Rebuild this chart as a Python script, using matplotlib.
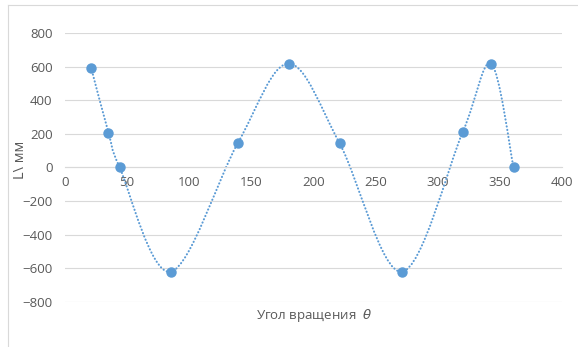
import matplotlib.pyplot as plt
from matplotlib.path import Path
from matplotlib.patches import PathPatch
from matplotlib.lines import Line2D
import numpy as np

# angle of rotation (deg) and length L (mm)
theta = [21, 35, 44, 85, 139, 180, 221, 271, 320, 343, 361]
length = [594, 207, 0, -620, 144, 618, 144, -620, 209, 617, 0]

x_ticks = [0, 50, 100, 150, 200, 250, 300, 350, 400]
y_ticks = [-800, -600, -400, -200, 0, 200, 400, 600, 800]

blue = '#5B9BD5'
grey_txt = '#595959'
grid_col = '#D9D9D9'

plt.rcParams['font.family'] = ['Open Sans', 'DejaVu Sans']


def smooth_path(xs, ys):
    # Excel-like "smoothed line": cubic bezier segments through the points
    pts = np.column_stack([xs, ys]).astype(float)
    verts = [pts[0]]
    codes = [Path.MOVETO]
    n = len(pts)
    for i in range(n - 1):
        p0 = pts[i - 1] if i > 0 else pts[i]
        p1 = pts[i]
        p2 = pts[i + 1]
        p3 = pts[i + 2] if i + 2 < n else pts[i + 1]
        c1 = p1 + (p2 - p0) / 6.0
        c2 = p2 - (p3 - p1) / 6.0
        verts += [c1, c2, p2]
        codes += [Path.CURVE4] * 3
    return Path(verts, codes)


fig = plt.figure(figsize=(5.78, 3.47), dpi=100)
ax = fig.add_axes([65 / 578, 1 - 302 / 347, (562 - 65) / 578, (302 - 33) / 347])

ax.set_xlim(0, 400)
ax.set_ylim(-800, 800)
ax.set_xticks(x_ticks)
ax.set_yticks(y_ticks)
ax.grid(axis='y', color=grid_col, linewidth=0.8)
ax.set_axisbelow(True)

for side in ['top', 'right', 'left']:
    ax.spines[side].set_visible(False)
ax.spines['bottom'].set_position(('data', 0))
ax.spines['bottom'].set_color(grid_col)
ax.spines['bottom'].set_linewidth(0.8)

ax.tick_params(axis='both', length=0, labelsize=9.5, labelcolor=grey_txt)
ax.tick_params(axis='x', pad=6)
ax.tick_params(axis='y', pad=9)

curve = PathPatch(smooth_path(theta, length), facecolor='none', edgecolor=blue,
                  linewidth=1.5, linestyle=(0, (0.1, 1.6)), capstyle='round', zorder=2)
ax.add_patch(curve)
ax.plot(theta, length, 'o', color=blue, markersize=6.5, zorder=3, clip_on=False)

fig.text(314 / 578, 1 - 316 / 347, 'Угол вращения  $\\theta$', ha='center', va='center',
         fontsize=9.5, color=grey_txt)
fig.text(20 / 578, 1 - 160 / 347, 'L\\ мм', ha='center', va='center', rotation=90,
         fontsize=10.5, color=grey_txt)

# chart frame (only left and top edges are visible)
fig.add_artist(Line2D([7.5 / 578, 7.5 / 578], [0, 1 - 4.5 / 347], color=grid_col, lw=0.8))
fig.add_artist(Line2D([7.5 / 578, 1], [1 - 4.5 / 347, 1 - 4.5 / 347], color=grid_col, lw=0.8))

fig.savefig('out.png', dpi=100, facecolor='white')
